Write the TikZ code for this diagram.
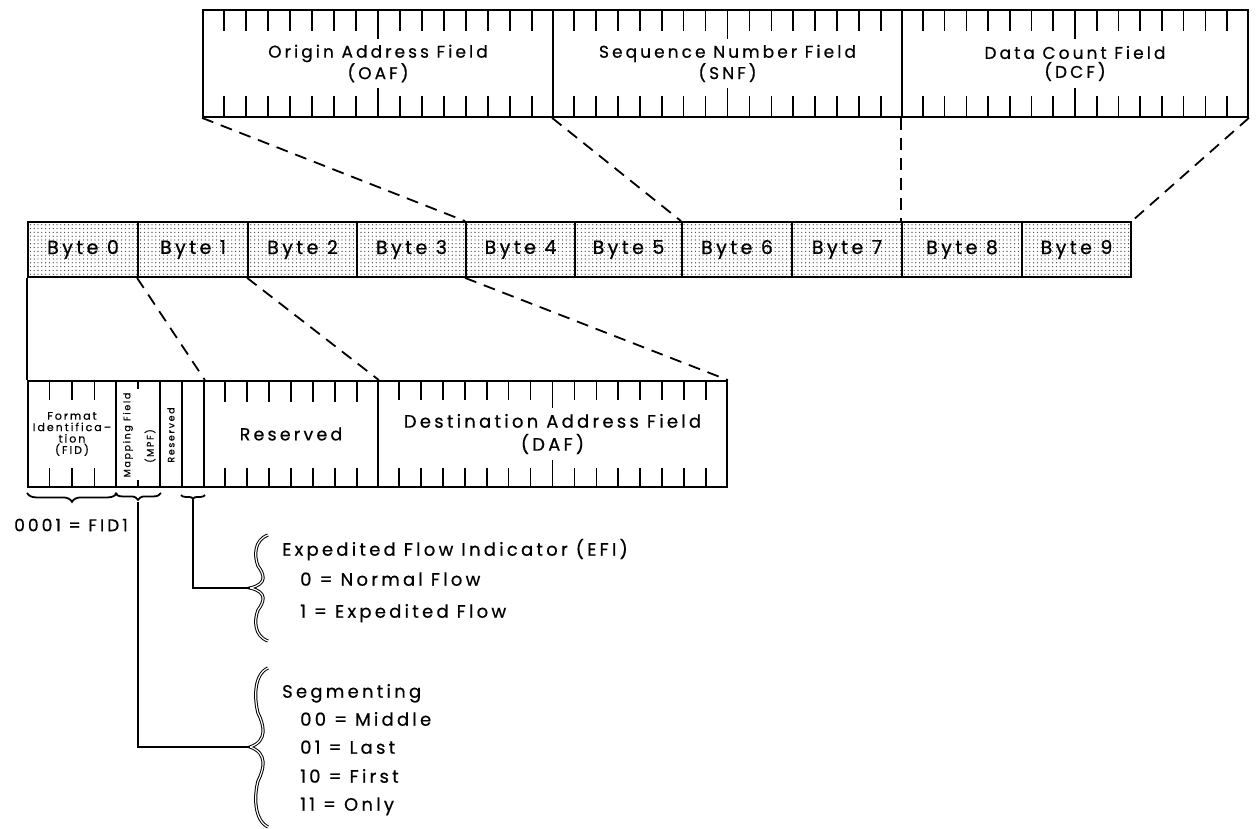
\documentclass[tikz,border=0pt]{standalone}
\usepackage{fontspec}
\setmainfont{Poppins}[LetterSpace=18,FakeBold=0.6]
\usetikzlibrary{calc,patterns.meta,decorations.pathreplacing}
\begin{document}
\begin{tikzpicture}[x=1pt,y=-1pt,line join=miter,
  outline/.style={draw,line width=1.8pt,inner sep=0pt},
  field/.style={outline,align=center,font=\fontsize{17}{19}\selectfont},
  lowfield/.style={outline,align=center,font=\fontsize{18}{23}\selectfont},
  tinyfield/.style={outline,align=center,font=\fontsize{11}{11.4}\selectfont},
  bytebox/.style={outline,minimum height=55pt,pattern={Dots[distance=3.8pt,radius=0.65pt]},pattern color=black!75,font=\fontsize{19}{22}\selectfont},
  vlabel/.style={rotate=90,inner sep=0pt,font=\fontsize{9.4}{10}\selectfont},
  tick/.style={line width=1.6pt},
  conn/.style={line width=1.8pt,dash pattern=on 12pt off 8pt},
  wire/.style={line width=1.6pt},
  ubrace/.style={decorate,decoration={brace,amplitude=#1},line width=1.8pt},
  bigbrace/.style={line width=1pt,double,double distance=1.2pt},
  note/.style={anchor=mid west,inner sep=0pt,font=\fontsize{18}{20}\selectfont}
]
\useasboundingbox (0,0) rectangle (1259,829);

% ---------- top fields ----------
\node[field,minimum width=350pt,minimum height=107pt] (oaf) at (378,63.5) {Origin Address Field\\(OAF)};
\node[field,minimum width=349pt,minimum height=107pt] (snf) at (727.5,63.5) {Sequence Number Field\\(SNF)};
\node[field,minimum width=346pt,minimum height=107pt] (dcf) at (1075,63.5) {Data Count Field\\(DCF)};
\foreach \f in {oaf,snf,dcf}{
  \foreach \k in {1,...,15}{
    \pgfmathsetmacro\ticklen{\k==8?30:22}
    \draw[tick] ($(\f.north west)!\k/16!(\f.north east)$) -- ++(0,\ticklen);
    \draw[tick] ($(\f.south west)!\k/16!(\f.south east)$) -- ++(0,-\ticklen);
  }
}

% ---------- byte row ----------
\foreach \i/\l/\r in {0/28/138,1/138/248,2/248/357,3/357/466,4/466/575,5/575/682,6/682/792,7/792/902,8/902/1022,9/1022/1131}{
  \pgfmathsetmacro\bw{\r-\l}
  \pgfmathsetmacro\bx{(\l+\r)/2}
  \node[bytebox,minimum width=\bw pt] (b\i) at (\bx,249.5) {Byte \i};
}

% ---------- lower fields ----------
\node[tinyfield,minimum width=88pt,minimum height=106pt] (fid) at (72,434) {Format\\Identifica--\\tion\\(FID)};
\node[outline,minimum width=44pt,minimum height=106pt] (mpf) at (138,434) {};
\node[outline,minimum width=22pt,minimum height=106pt] (rsvbit) at (171,434) {};
\node[outline,minimum width=22pt,minimum height=106pt] (efi) at (193,434) {};
\node[lowfield,minimum width=174pt,minimum height=106pt,font=\fontsize{17.5}{23}\selectfont] (rsv) at (291,434) {Reserved};
\node[lowfield,minimum width=349pt,minimum height=106pt] (daf) at (552.5,434) {Destination Address Field\\(DAF)};
\node[vlabel] (mpfl1) at (128,435) {Mapping Field};
\node[vlabel] (mpfl2) at (150,446) {(MPF)};
\node[vlabel] (rsvl) at (171,435) {Reserved};

\foreach \k in {1,2,3}{
  \draw[tick] ($(fid.north west)!\k/4!(fid.north east)$) -- ++(0,20);
  \draw[tick] ($(fid.south west)!\k/4!(fid.south east)$) -- ++(0,-20);
}
\draw[tick] (mpf.north) -- ++(0,9);
\draw[tick] (mpf.south) -- ++(0,-8);
\foreach \k in {1,...,7}{
  \draw[tick] ($(rsv.north west)!\k/8!(rsv.north east)$) -- ++(0,22);
  \draw[tick] ($(rsv.south west)!\k/8!(rsv.south east)$) -- ++(0,-20);
}
\foreach \k in {1,...,15}{
  \pgfmathsetmacro\ticklen{\k==8?28:20}
  \draw[tick] ($(daf.north west)!\k/16!(daf.north east)$) -- ++(0,\ticklen);
  \draw[tick] ($(daf.south west)!\k/16!(daf.south east)$) -- ++(0,-\ticklen);
}

% ---------- expansion connectors ----------
\draw[conn] (oaf.south west) -- (b4.north west);
\draw[conn] (snf.south west) -- (b6.north west);
\draw[conn] (dcf.south west) -- (b8.north west);
\draw[conn] (dcf.south east) -- (b9.north east);
\draw[conn] (b1.south west) -- (efi.north east);
\draw[conn] (b2.south west) -- (rsv.north east);
\draw[conn] (b4.south west) -- (daf.north east);
\draw[line width=1.8pt] (b0.south west) -- (fid.north west);

% ---------- under braces ----------
\draw[ubrace=9pt] ([yshift=-5pt]fid.south east) -- ([yshift=-5pt]fid.south west);
\draw[ubrace=7pt] ([yshift=-5pt]mpf.south east) -- ([yshift=-5pt]mpf.south west);
\draw[ubrace=4pt] ([yshift=-7pt]efi.south east) -- ([yshift=-7pt]efi.south west);
\coordinate (mpftip) at ($(mpf.south)+(0,14)$);
\coordinate (efitip) at ($(efi.south)+(0,11)$);
\node[inner sep=0pt,font=\fontsize{17}{18}\selectfont] (fidval) at (71,525) {0001 = FID1};

% ---------- big braces ----------
\coordinate (efbtip) at (250,588);
\coordinate (segtip) at (250,747);
\draw[bigbrace] (268,535) .. controls (254,540) and (254,556) .. (258,566) .. controls (264,574) and (268,584) .. (efbtip) .. controls (268,592) and (264,602) .. (258,610) .. controls (254,620) and (254,636) .. (268,641);
\draw[bigbrace] (268,668) .. controls (254,674) and (254,698) .. (258,713) .. controls (264,725) and (268,741) .. (segtip) .. controls (268,753) and (264,769) .. (258,781) .. controls (254,796) and (254,820) .. (268,827);
\draw[wire] (efitip) |- (efbtip);
\draw[wire] (mpftip) |- (segtip);

% ---------- notes ----------
\node[note] (efih) at (282,553) {Expedited Flow Indicator (EFI)};
\node[note] (efi0) at (300,583) {0 = Normal Flow};
\node[note] (efi1) at (300,615) {1 = Expedited Flow};
\node[note] (segh) at (282,695) {Segmenting};
\node[note] (seg00) at (300,723) {00 = Middle};
\node[note] (seg01) at (300,751) {01 = Last};
\node[note] (seg10) at (300,780) {10 = First};
\node[note] (seg11) at (300,808) {11 = Only};
\end{tikzpicture}
\end{document}
